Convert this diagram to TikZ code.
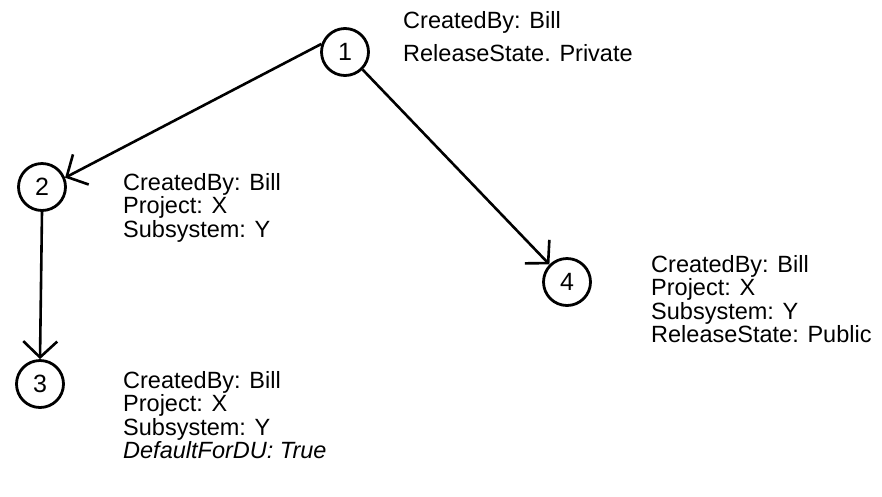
\documentclass[tikz,border=0pt]{standalone}
\usepackage{fontspec}
\setmainfont{Liberation Sans}
\usetikzlibrary{arrows.meta}
\begin{document}
\begin{tikzpicture}[x=1pt,y=-1pt,
  version/.style={circle, draw, line width=2.8pt, minimum size=47pt, inner sep=0pt,
    font=\fontsize{25}{26}\selectfont},
  attrs/.style={anchor=north west, align=left, inner sep=0pt,
    font=\fontsize{23.5}{23.5}\selectfont},
  link/.style={line width=2.6pt,
    -{Straight Barb[length=16pt,width=34pt,line width=2.6pt]}}]
\useasboundingbox (0,0) rectangle (882,496);

% version nodes
\node[version] (n1) at (345,52) {1};
\node[version] (n2) at (42,187) {2};
\node[version] (n3) at (40,384) {3};
\node[version] (n4) at (567,282) {4};

% attribute lists
\node[attrs] (a1) at (403,11) {CreatedBy: Bill\\[10pt]ReleaseState. Private};
\node[attrs] (a2) at (123,173) {CreatedBy: Bill\\Project: X\\Subsystem: Y};
\node[attrs] (a3) at (123,371) {CreatedBy: Bill\\Project: X\\Subsystem: Y\\\itshape DefaultForDU: True};
\node[attrs] (a4) at (651,255) {CreatedBy: Bill\\Project: X\\Subsystem: Y\\ReleaseState: Public};

% derivation links
\draw[link] (n1.161) -- (n2.22);
\draw[link] (n1.-45) -- (n4.135);
\draw[link] (n2.south) -- (n3.north);
\end{tikzpicture}
\end{document}
